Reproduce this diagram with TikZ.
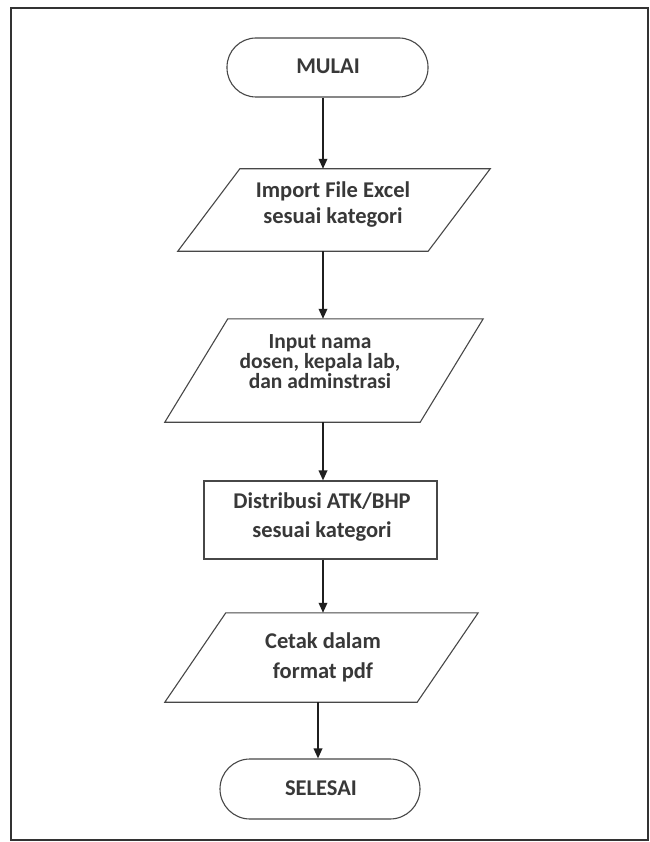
\documentclass[tikz,border=0pt]{standalone}
\usepackage{fontspec}
\setmainfont{Carlito}
\usetikzlibrary{arrows.meta}

% Parallelogram outline drawn around an invisible rectangular node
\newcommand\ioframe[2]{%
  \draw[outline] ([xshift=#2]#1.north west) -- ([xshift=#2]#1.north east)
    -- ([xshift=-#2]#1.south east) -- ([xshift=-#2]#1.south west) -- cycle;}

\tikzset{
  x=1pt, y=-1pt,
  label font/.style={font=\fontsize{22.5}{19.5}\selectfont\bfseries, text=black!78},
  outline/.style={draw=black!72, line width=1.1pt},
  term/.style={outline, rounded corners=29pt, minimum width=201pt,
    minimum height=59pt, inner sep=0pt},
  ioshape/.style={inner sep=0pt},
  steptext/.style={label font, align=center, inner sep=0pt},
  proc/.style={outline, minimum width=233pt, minimum height=78pt, inner sep=0pt},
  flow/.style={-{Triangle[length=10pt,width=8.5pt]}, line width=1.8pt, draw=black!88},
}

\begin{document}
\begin{tikzpicture}
  \fill[white] (0,0) rectangle (649,842);
  \useasboundingbox (0,0) rectangle (649,842);

  % outer frame
  \draw[line width=1.6pt, black!80] (11,8) rectangle (648,840);

  % start
  \node[term] (mulai) at (327.5,67.5) {};
  \node[steptext] (mulai-t) at (328,66.7) {MULAI};

  % import
  \node[ioshape, minimum width=250pt, minimum height=82pt] (import) at (334,210) {};
  \ioframe{import}{31pt}
  \node[steptext] (import-t) at (333,205) {Import File Excel\\[6.5pt] sesuai kategori};

  % lecturer / lab head / administration names
  \node[ioshape, minimum width=255pt, minimum height=103pt] (names) at (324,370.5) {};
  \ioframe{names}{31.5pt}
  \node[steptext, font=\fontsize{21.5}{20}\selectfont\bfseries] (names-t) at (320,362)
    {Input nama\\ dosen, kepala lab,\\ dan adminstrasi};

  % distribution
  \node[proc] (distrib) at (320.5,520) {};
  \node[steptext] (distrib-t) at (322,517.5) {Distribusi ATK/BHP\\[9.5pt] sesuai kategori};

  % print
  \node[ioshape, minimum width=252pt, minimum height=89pt] (cetak) at (321.5,657.5) {};
  \ioframe{cetak}{30.5pt}
  \node[steptext] (cetak-t) at (323,657) {Cetak dalam\\[10.5pt] format pdf};

  % end
  \node[term, minimum width=200pt, minimum height=60pt, rounded corners=30pt]
    (selesai) at (320,789) {};
  \node[steptext] (selesai-t) at (321,788) {SELESAI};

  % connectors
  \draw[flow] ([xshift=-4.5pt]mulai.south) -- ([xshift=-4.5pt]mulai.south |- import.north);
  \draw[flow] ([xshift=-11pt]import.south) -- ([xshift=-11pt]import.south |- names.north);
  \draw[flow] ([xshift=-1pt]names.south) -- ([xshift=-1pt]names.south |- distrib.north);
  \draw[flow] ([xshift=2.5pt]distrib.south) -- ([xshift=2.5pt]distrib.south |- cetak.north);
  \draw[flow] ([xshift=-3.5pt]cetak.south) -- ([xshift=-3.5pt]cetak.south |- selesai.north);
\end{tikzpicture}
\end{document}
